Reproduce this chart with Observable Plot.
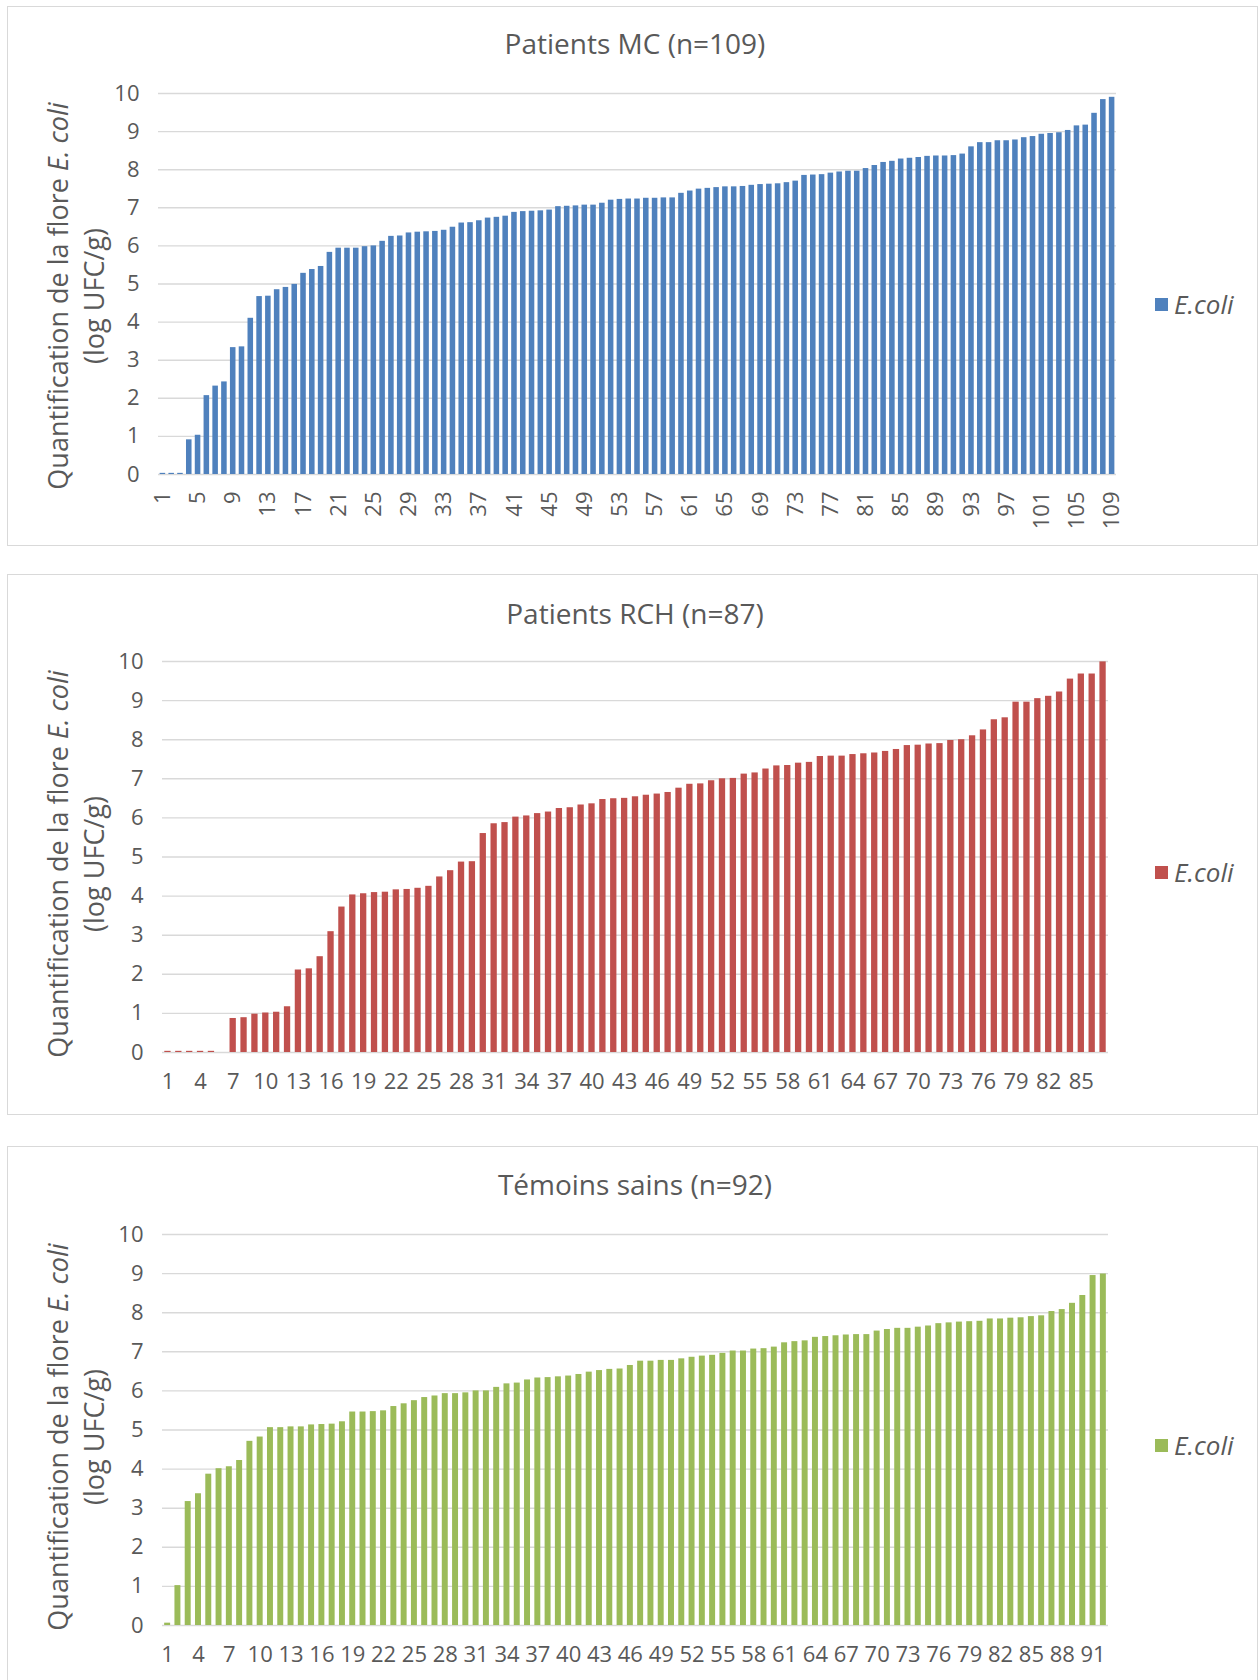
<!DOCTYPE html>
<html>
<head>
<meta charset="utf-8">
<script src="https://cdn.jsdelivr.net/npm/d3@7"></script>
<script src="https://cdn.jsdelivr.net/npm/@observablehq/plot@0.6"></script>
<style>
  body { margin: 0; background: #fff; font-family: "Open Sans", sans-serif; }
  #page { position: relative; width: 1260px; height: 1680px; overflow: hidden; background: #fff; }
  .frame { position: absolute; border: 1.5px solid #d9d9d9; box-sizing: border-box; background: #fff; }
  .title { position: absolute; left: 0; width: 1270px; text-align: center; color: #595959; font-size: 28px; height: 38px; line-height: 38px; white-space: nowrap; }
  .ylab { position: absolute; width: 560px; height: 72px; text-align: center; color: #595959; font-size: 27px; line-height: 36px; transform: rotate(-90deg); white-space: nowrap; }
  .legend { position: absolute; left: 1155px; height: 32px; display: flex; align-items: center; color: #595959; font-size: 26px; font-style: italic; }
  .legend .sw { width: 13px; height: 13px; margin-right: 6px; }
  svg.plot { position: absolute; left: 0; }
</style>
</head>
<body>
<div id="page"></div>
<script>
// ---------- DATA ----------
const yTicks = [0, 1, 2, 3, 4, 5, 6, 7, 8, 9, 10];

const mcTitle = "Patients MC (n=109)";
const mcValues = [
  0.03, 0.03, 0.03, 0.91, 1.03, 2.07, 2.32, 2.43, 3.33, 3.35,
  4.10, 4.67, 4.68, 4.85, 4.91, 4.99, 5.28, 5.38, 5.46, 5.83,
  5.94, 5.94, 5.94, 5.98, 6.00, 6.12, 6.25, 6.26, 6.34, 6.36,
  6.37, 6.38, 6.41, 6.49, 6.60, 6.61, 6.66, 6.73, 6.75, 6.78,
  6.88, 6.90, 6.91, 6.92, 6.94, 7.03, 7.04, 7.05, 7.07, 7.07,
  7.12, 7.20, 7.22, 7.23, 7.23, 7.25, 7.25, 7.26, 7.26, 7.38,
  7.44, 7.49, 7.51, 7.53, 7.55, 7.55, 7.56, 7.59, 7.61, 7.62,
  7.63, 7.66, 7.70, 7.85, 7.86, 7.87, 7.91, 7.94, 7.96, 7.96,
  8.03, 8.11, 8.19, 8.22, 8.28, 8.30, 8.32, 8.35, 8.36, 8.36,
  8.37, 8.41, 8.60, 8.71, 8.71, 8.76, 8.76, 8.78, 8.84, 8.87,
  8.93, 8.95, 8.97, 9.03, 9.15, 9.17, 9.48, 9.84, 9.90
];
const mcTicks = [1, 5, 9, 13, 17, 21, 25, 29, 33, 37, 41, 45, 49, 53, 57, 61, 65, 69, 73, 77, 81, 85, 89, 93, 97, 101, 105, 109];

const rchTitle = "Patients RCH (n=87)";
const rchValues = [
  0.03, 0.03, 0.03, 0.03, 0.03, 0, 0.87, 0.89, 0.98, 1.01,
  1.03, 1.17, 2.11, 2.14, 2.45, 3.09, 3.72, 4.03, 4.06, 4.09,
  4.10, 4.16, 4.17, 4.20, 4.25, 4.49, 4.65, 4.87, 4.88, 5.60,
  5.85, 5.88, 6.02, 6.05, 6.11, 6.15, 6.24, 6.26, 6.33, 6.36,
  6.47, 6.49, 6.50, 6.54, 6.58, 6.61, 6.65, 6.76, 6.86, 6.87,
  6.95, 7.00, 7.01, 7.12, 7.15, 7.25, 7.33, 7.34, 7.40, 7.42,
  7.57, 7.58, 7.58, 7.62, 7.64, 7.66, 7.70, 7.75, 7.85, 7.86,
  7.89, 7.90, 7.98, 8.00, 8.10, 8.25, 8.51, 8.56, 8.96, 8.96,
  9.05, 9.11, 9.22, 9.55, 9.68, 9.68, 9.99
];
const rchTicks = [1, 4, 7, 10, 13, 16, 19, 22, 25, 28, 31, 34, 37, 40, 43, 46, 49, 52, 55, 58, 61, 64, 67, 70, 73, 76, 79, 82, 85];

const temTitle = "Témoins sains (n=92)";
const temValues = [
  0.06, 1.02, 3.17, 3.37, 3.87, 4.01, 4.06, 4.22, 4.71, 4.82,
  5.06, 5.06, 5.08, 5.08, 5.13, 5.14, 5.15, 5.21, 5.46, 5.46,
  5.47, 5.49, 5.60, 5.67, 5.75, 5.83, 5.87, 5.93, 5.93, 5.95,
  6.00, 6.00, 6.09, 6.18, 6.20, 6.28, 6.33, 6.34, 6.36, 6.38,
  6.42, 6.48, 6.52, 6.55, 6.56, 6.65, 6.76, 6.76, 6.78, 6.78,
  6.82, 6.86, 6.89, 6.91, 6.96, 7.02, 7.02, 7.07, 7.08, 7.12,
  7.23, 7.26, 7.28, 7.37, 7.39, 7.41, 7.43, 7.44, 7.44, 7.53,
  7.57, 7.60, 7.60, 7.63, 7.66, 7.72, 7.74, 7.76, 7.77, 7.78,
  7.84, 7.84, 7.86, 7.87, 7.90, 7.92, 8.03, 8.08, 8.24, 8.44,
  8.95, 8.99
];
const temTicks = [1, 4, 7, 10, 13, 16, 19, 22, 25, 28, 31, 34, 37, 40, 43, 46, 49, 52, 55, 58, 61, 64, 67, 70, 73, 76, 79, 82, 85, 88, 91];

const seriesName = "E.coli";
const colors = { mc: "#4f81bd", rch: "#c0504d", tem: "#9bbb59" };

// ---------- LAYOUT ----------
const page = document.getElementById("page");
const FONT = '"Open Sans", sans-serif';
const TEXT = "#595959";

function panel(cfg) {
  const frame = document.createElement("div");
  frame.className = "frame";
  frame.style.left = "7px";
  frame.style.top = cfg.frameTop + "px";
  frame.style.width = "1251px";
  frame.style.height = (cfg.frameBottom - cfg.frameTop) + "px";
  page.appendChild(frame);

  const t = document.createElement("div");
  t.className = "title";
  t.textContent = cfg.title;
  t.style.top = (cfg.titleY - 19) + "px";
  page.appendChild(t);

  const yl = document.createElement("div");
  yl.className = "ylab";
  yl.innerHTML = 'Quantification de la flore <i>E. coli</i><br>(log UFC/g)';
  yl.style.left = (76 - 280) + "px";
  yl.style.top = (cfg.labelY - 36) + "px";
  page.appendChild(yl);

  const lg = document.createElement("div");
  lg.className = "legend";
  lg.style.top = (cfg.legendY - 16) + "px";
  lg.innerHTML = `<span class="sw" style="background:${cfg.color}"></span><span>${seriesName}</span>`;
  page.appendChild(lg);

  const data = cfg.values.map((v, i) => ({ i: i + 1, v }));
  const svgBottom = Math.min(cfg.frameBottom, 1680);
  const H = svgBottom - cfg.frameTop;
  const chart = Plot.plot({
    width: 1260,
    height: H,
    marginLeft: cfg.x0,
    marginRight: 1260 - cfg.x1,
    marginTop: cfg.y10 - cfg.frameTop,
    marginBottom: svgBottom - cfg.y0,
    style: { fontFamily: FONT, fontSize: "22px", color: TEXT, background: "transparent", overflow: "visible" },
    x: { type: "band", domain: data.map(d => d.i), paddingInner: cfg.padding, paddingOuter: cfg.padding / 2, round: false, label: null },
    y: { domain: [0, 10], label: null },
    marks: [
      Plot.gridY(yTicks, { stroke: "#d9d9d9", strokeOpacity: 1, strokeWidth: 1.4 }),
      Plot.barY(data, { x: "i", y: "v", fill: cfg.color }),
      Plot.axisY(yTicks, { tickSize: 0, tickPadding: 19, label: null, fontSize: 22, fill: TEXT }),
      Plot.axisX(cfg.ticks, {
        tickSize: 0,
        tickPadding: cfg.rotate ? 17 : 21,
        tickRotate: cfg.rotate ? -90 : 0,
        label: null,
        fontSize: 22,
        fill: TEXT
      })
    ]
  });
  chart.classList.add("plot");
  chart.style.top = cfg.frameTop + "px";
  chart.style.position = "absolute";
  chart.style.left = "0px";
  page.appendChild(chart);
}

panel({ title: mcTitle, values: mcValues, ticks: mcTicks, color: colors.mc, padding: 0.37, rotate: true,
        frameTop: 6, frameBottom: 546, titleY: 43, x0: 158, x1: 1116, y10: 93, y0: 474, legendY: 304, labelY: 296 });
panel({ title: rchTitle, values: rchValues, ticks: rchTicks, color: colors.rch, padding: 0.42, rotate: false,
        frameTop: 574, frameBottom: 1115, titleY: 613, x0: 162, x1: 1108, y10: 661, y0: 1052, legendY: 872, labelY: 864 });
panel({ title: temTitle, values: temValues, ticks: temTicks, color: colors.tem, padding: 0.42, rotate: false,
        frameTop: 1146, frameBottom: 1700, titleY: 1184, x0: 162, x1: 1108, y10: 1234, y0: 1625, legendY: 1445, labelY: 1437 });
</script>
</body>
</html>
